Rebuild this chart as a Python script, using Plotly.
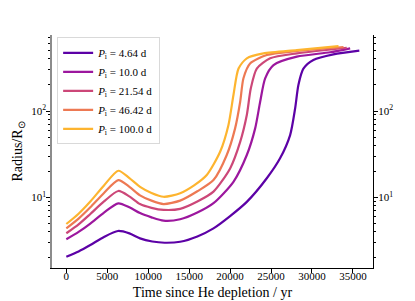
import plotly.graph_objects as go

labels = ["4.64", "10.0", "21.54", "46.42", "100.0"]
colors = ["#5c01a6", "#9c179e", "#cc4778", "#ed7953", "#fdb42f"]

t_p1 = [0, 1500, 2930, 4600, 6300, 7700, 9000, 10500, 12000, 13900, 16000, 17970, 20000, 22040, 24480, 26100, 27330, 27940, 28340, 28950, 30170, 32610, 35780]
r_p1 = [2.06, 2.38, 2.82, 3.5, 4.1, 3.85, 3.37, 3.1, 3.0, 3.08, 3.55, 4.4, 6.1, 8.9, 16.7, 28.4, 52.7, 107, 200, 309, 389, 452, 500]

t_p2 = [0, 1500, 2930, 4600, 6350, 7700, 9000, 10400, 11870, 13900, 16000, 17970, 20410, 22040, 23060, 23670, 24280, 25300, 28150, 32220, 34660]
r_p2 = [3.29, 4.0, 5.0, 6.7, 8.57, 7.7, 6.6, 5.9, 5.4, 5.6, 6.7, 8.6, 15.2, 31, 63, 128, 239, 340, 425, 478, 531]

t_p3 = [0, 1500, 2930, 4600, 6350, 7700, 9000, 10400, 11870, 13900, 16000, 17970, 20000, 21230, 22040, 22530, 23260, 24890, 28150, 34250]
r_p3 = [3.86, 4.9, 6.45, 9.0, 11.9, 10.3, 8.4, 7.6, 7.2, 7.4, 9.0, 11.7, 21.7, 44, 90, 183, 310, 407, 464, 539]

t_p4 = [0, 1500, 2930, 4600, 6350, 7700, 9000, 10400, 11870, 13900, 16000, 17970, 19590, 20610, 21230, 21630, 22440, 24480, 28150, 33850]
r_p4 = [4.4, 5.7, 7.7, 11.3, 15.9, 13.3, 10.6, 9.2, 8.4, 9.2, 11.8, 15.9, 31, 63, 128, 239, 355, 444, 494, 550]

t_p5 = [0, 1500, 2930, 4600, 6350, 7700, 9000, 10400, 11870, 13900, 15600, 17150, 18780, 19800, 20410, 21030, 22040, 24070, 28150, 33240]
r_p5 = [4.94, 6.5, 9.0, 13.8, 20.4, 16.8, 13.3, 11.3, 10.2, 11.2, 13.8, 18.2, 33.8, 69, 153, 310, 407, 464, 507, 562]

xticks = [0, 5000, 10000, 15000, 20000, 25000, 30000, 35000]
yticks = [10, 100]
yticklabels = ["10<sup>1</sup>", "10<sup>2</sup>"]
yminor = [2, 3, 4, 5, 6, 7, 8, 9, 20, 30, 40, 50, 60, 70, 80, 90, 200, 300, 400, 500, 600, 700]

series = [(t_p1, r_p1), (t_p2, r_p2), (t_p3, r_p3), (t_p4, r_p4), (t_p5, r_p5)]

FONT = "Liberation Serif"
GREY = "#8c8c8c"

fig = go.Figure()
for (t, r), lab, c in zip(series, labels, colors):
    fig.add_trace(go.Scatter(
        x=t, y=r, mode="lines",
        line=dict(color=c, width=2.2, shape="spline", smoothing=0.7),
        name=f"<i>P</i><sub>i</sub> = {lab} d",
    ))

fig.add_trace(go.Scatter(x=[None], y=[None], yaxis="y2", showlegend=False, hoverinfo="skip"))

yrange = [0.185, 2.879]
# margins compensate for the page's default 8px body offset
fig.update_layout(
    width=415, height=301, autosize=False,
    margin=dict(l=44, r=50, t=27, b=41),
    plot_bgcolor="white", paper_bgcolor="white",
    font=dict(family=FONT, size=11, color="black"),
    showlegend=True,
    legend=dict(
        x=0.016, y=0.99, xanchor="left", yanchor="top",
        bgcolor="rgba(255,255,255,0.8)", bordercolor="#d9d9d9", borderwidth=1,
        font=dict(family=FONT, size=11), itemwidth=30, tracegroupgap=0,
    ),
    xaxis=dict(
        range=[-1750, 37450], tickvals=xticks, ticktext=[str(v) for v in xticks],
        showline=True, linecolor="black", linewidth=1.2, mirror=False,
        ticks="outside", ticklen=4, tickwidth=1, tickcolor="black",
        ticklabelstandoff=-6,
        showgrid=False, zeroline=False, automargin=False,
        title=dict(text="Time since He depletion / yr", font=dict(family=FONT, size=14), standoff=5),
        tickfont=dict(family=FONT, size=11),
    ),
    xaxis2=dict(
        overlaying="x", side="top", range=[-1750, 37450], showline=True,
        linecolor=GREY, linewidth=1.5, showticklabels=False, ticks="", showgrid=False, zeroline=False,
        automargin=False,
    ),
    yaxis=dict(
        type="log", range=yrange, tickvals=yticks, ticktext=yticklabels,
        showline=True, linecolor=GREY, linewidth=1.5,
        ticks="outside", ticklen=4, tickwidth=1, tickcolor="black",
        ticklabelstandoff=-2,
        minor=dict(tickmode="array", tickvals=yminor, ticks="outside", ticklen=2, tickwidth=0.8, tickcolor="black", showgrid=False),
        showgrid=False, zeroline=False, automargin=False,
        title=dict(text="Radius/R<sub>⊙</sub>", font=dict(family=FONT, size=14), standoff=5),
        tickfont=dict(family=FONT, size=11),
    ),
    yaxis2=dict(
        type="log", range=yrange, overlaying="y", side="right",
        tickvals=yticks, ticktext=yticklabels,
        showline=True, linecolor="black", linewidth=1.2,
        ticks="outside", ticklen=4, tickwidth=1, tickcolor="black",
        ticklabelstandoff=-2,
        minor=dict(tickmode="array", tickvals=yminor, ticks="outside", ticklen=2, tickwidth=0.8, tickcolor="black", showgrid=False),
        showgrid=False, zeroline=False, automargin=False,
        tickfont=dict(family=FONT, size=11),
    ),
)

fig.write_html("out.html")
